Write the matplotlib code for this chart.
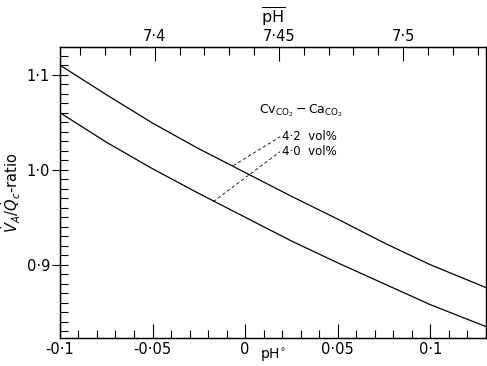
import numpy as np
import matplotlib
matplotlib.use("Agg")
import matplotlib.pyplot as plt
from matplotlib.ticker import MultipleLocator, FixedLocator

# pH deviation (bottom axis) and V/Q ratio
ph_dev = [-0.1, -0.075, -0.05, -0.025, 0.0, 0.025, 0.05, 0.075, 0.1, 0.13]
ratio_42 = [1.110, 1.079, 1.049, 1.022, 0.997, 0.972, 0.948, 0.923, 0.900, 0.876]
ratio_40 = [1.060, 1.029, 1.001, 0.975, 0.950, 0.925, 0.902, 0.880, 0.858, 0.835]

# leader lines from curves to their labels
lead_42_x = [-0.0065, 0.0189]
lead_42_y = [1.0042, 1.0347]
lead_40_x = [-0.0173, 0.0189]
lead_40_y = [0.9663, 1.019]

bottom_ticks = [-0.1, -0.05, 0.0, 0.05, 0.1]
bottom_labels = ['-0·1', '-0·05', '0', '0·05', '0·1']
left_ticks = [0.9, 1.0, 1.1]
left_labels = ['0·9', '1·0', '1·1']
top_ticks = [7.4, 7.45, 7.5]
top_labels = ['7·4', '7·45', '7·5']

plt.rcParams['font.family'] = ['DejaVu Sans']
plt.rcParams['mathtext.fontset'] = 'dejavusans'

fig = plt.figure(figsize=(4.87, 3.66), dpi=100)
ax = fig.add_axes([0.123, 0.0765, 0.875, 0.795])

ax.plot(ph_dev, ratio_42, color='black', lw=0.9)
ax.plot(ph_dev, ratio_40, color='black', lw=0.9)
ax.plot(lead_42_x, lead_42_y, color='black', lw=0.6, ls=(0, (4, 3)))
ax.plot(lead_40_x, lead_40_y, color='black', lw=0.6, ls=(0, (4, 3)))

ax.text(0.0200, 1.0347, '4·2  vol%', fontsize=8.5, va='center', ha='left')
ax.text(0.0200, 1.019, '4·0  vol%', fontsize=8.5, va='center', ha='left')
ax.text(0.0075, 1.062, r'$\mathrm{Cv_{CO_2}-Ca_{CO_2}}$', fontsize=9, va='center', ha='left')

ax.set_xlim(-0.1, 0.13)
ax.set_ylim(0.823, 1.129)

ax.xaxis.set_major_locator(FixedLocator(bottom_ticks))
ax.set_xticklabels(bottom_labels)
ax.xaxis.set_minor_locator(MultipleLocator(0.01))
ax.yaxis.set_major_locator(FixedLocator(left_ticks))
ax.set_yticklabels(left_labels)
ax.yaxis.set_minor_locator(MultipleLocator(0.01))

ax.tick_params(axis='x', which='major', direction='in', length=10, width=0.8, labelsize=10.5, pad=3)
ax.tick_params(axis='x', which='minor', direction='in', length=6, width=0.8)
ax.tick_params(axis='y', which='major', direction='inout', length=12, width=0.8, labelsize=10.5, pad=1)
ax.tick_params(axis='y', which='minor', direction='in', length=6, width=0.8)

ax.set_xlabel(r'pH$^{\circ}$', fontsize=10, labelpad=-8)
ax.set_ylabel(r'$\dot{V}_A/\dot{Q}_c$-ratio', fontsize=10.5, labelpad=3)

top = ax.twiny()
top.set_xlim(7.3618, 7.5334)
top.xaxis.set_major_locator(FixedLocator(top_ticks))
top.set_xticklabels(top_labels)
top.xaxis.set_minor_locator(MultipleLocator(0.01))
top.tick_params(axis='x', which='major', direction='in', length=10, width=0.8, labelsize=10.5, pad=2)
top.tick_params(axis='x', which='minor', direction='in', length=6, width=0.8)
top.set_xlabel(r'$\overline{\mathrm{pH}}$', fontsize=11.5, labelpad=4)

for a in (ax, top):
    for s in a.spines.values():
        s.set_linewidth(0.9)

fig.savefig('out.png', dpi=100)
